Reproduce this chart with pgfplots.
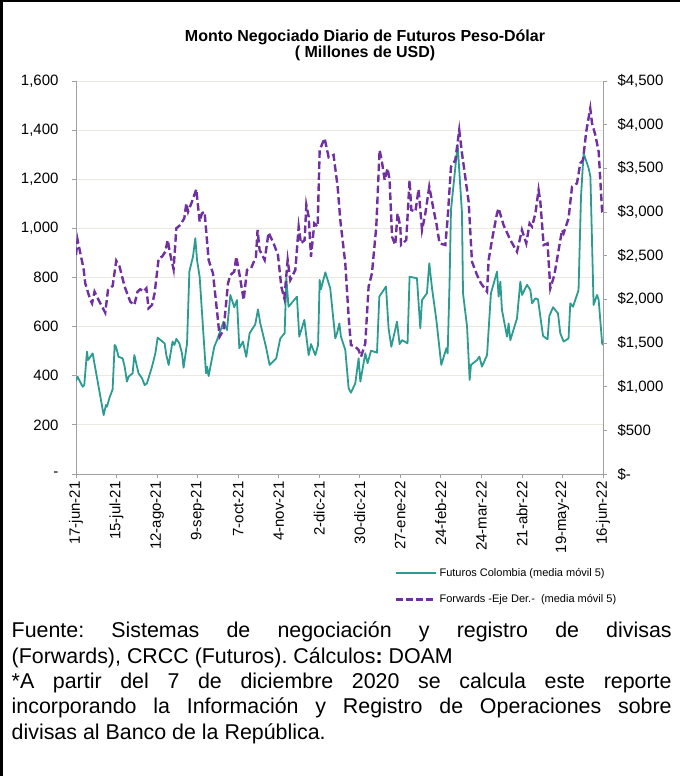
\documentclass[border=0pt]{standalone}
\usepackage{pgfplots}
\pgfplotsset{compat=1.18}
\usepackage{fontspec}
\setmainfont{Liberation Sans}
\definecolor{gridc}{HTML}{EAE8DF}
\definecolor{axisc}{HTML}{A0A0A0}
\definecolor{futc}{HTML}{2B9C8F}
\definecolor{fwdc}{HTML}{7030A0}
\frenchspacing
\begin{document}
\begin{tikzpicture}[x=1pt,y=1pt]
\useasboundingbox (0pt,0pt) rectangle (680pt,776pt);
\fill[black] (0pt,773.5pt) rectangle (680pt,776pt);
\fill[black] (0pt,0pt) rectangle (2.5pt,776pt);
\node[font=\bfseries\fontsize{16}{16}\selectfont, anchor=base] at (365pt,734pt) {Monto Negociado Diario de Futuros Peso-Dólar};
\node[font=\bfseries\fontsize{16}{16}\selectfont, anchor=base] at (365pt,718pt) {( Millones de USD)};
\begin{axis}[
  at={(76pt,302pt)}, anchor=south west, width=527pt, height=393pt, scale only axis,
  xmin=0, xmax=364, ymin=0, ymax=1600,
  axis x line*=bottom, axis y line*=left,
  axis line style={draw=axisc, line width=0.8pt, -},
  tick style={draw=axisc, line width=0.8pt},
  tick align=outside, major tick length=4pt,
  ytick={0,200,...,1600},
  yticklabels={-,200,400,600,800,{1,000},{1,200},{1,400},{1,600}},
  ymajorgrids, grid style={draw=gridc, line width=0.8pt},
  xtick={0,28,...,364},
  xticklabels={17-jun-21,15-jul-21,12-ago-21,9-sep-21,7-oct-21,4-nov-21,2-dic-21,30-dic-21,27-ene-22,24-feb-22,24-mar-22,21-abr-22,19-may-22,16-jun-22},
  every tick label/.append style={font=\fontsize{15}{18}\selectfont, text=black},
  xticklabel style={rotate=90, anchor=east},
  yticklabel style={xshift=-10pt},
  legend style={at={(0.6053,-0.235)}, anchor=north west, draw=none, fill=none,
    font=\fontsize{11}{13}\selectfont, row sep=12.5pt, inner sep=0pt},
  legend cell align=left,
  legend image code/.code={\draw[#1] (0pt,0pt) -- (40pt,0pt);},
]
\addplot[color=futc, line width=1.8pt, line join=round, forget plot] coordinates {
(0,380)(1.1,396)(4.6,355)(5.7,362)(7.6,498)(8.3,464)(11.5,491)(19.1,240)(20.7,281)(21.4,274)(23.0,308)(25.3,345)(26.7,525)(27.6,518)(29.4,477)(32.2,471)(33.6,437)(35.2,376)(36.3,396)(39.1,410)(40.3,484)(43.2,410)(45.6,390)(47.4,362)(49.0,369)(52.5,437)(54.8,491)(56.4,555)(61.2,532)(62.4,484)(64.0,444)(66.7,539)(67.9,525)(69.3,550)(71.4,532)(73.2,491)(74.3,433)(76.7,532)(78.3,824)(80.8,885)(82.4,960)(83.6,871)(85.4,803)(89.8,410)(90.5,437)(91.6,399)(95.5,518)(97.4,545)(101.9,620)(104.3,586)(106.6,729)(109.3,679)(111.2,708)(112.8,512)(115.3,539)(117.6,477)(119.9,573)(123.8,609)(125.7,670)(127.3,613)(131.2,518)(133.7,444)(138.3,471)(141.1,552)(144.1,573)(145.3,797)(146.8,681)(152.6,722)(154.2,559)(157.7,627)(160.7,484)(162.3,529)(165.3,484)(167.2,525)(168.3,790)(169.2,752)(172.2,821)(175.6,756)(179.1,552)(180.3,573)(181.9,613)(183.0,559)(186.0,505)(188.3,349)(189.9,331)(192.9,369)(195.2,471)(196.4,376)(199.8,491)(201.4,451)(203.8,502)(207.9,494)(209.5,722)(212.5,749)(214.1,763)(215.9,593)(217.8,518)(221.7,620)(223.5,529)(225.2,545)(229.0,532)(230.4,803)(235.5,797)(237.8,593)(239.0,708)(242.4,736)(244.0,858)(245.9,756)(248.9,627)(252.3,444)(255.8,512)(256.7,491)(258.0,776)(259.0,1075)(263.6,1340)(266.6,1061)(267.3,736)(270.1,600)(271.9,383)(272.8,444)(277.0,464)(278.6,478)(280.4,437)(283.9,484)(286.6,736)(290.8,824)(291.9,722)(293.1,783)(294.2,668)(297.7,559)(298.8,613)(300.0,545)(304.6,634)(306.9,783)(308.1,729)(311.5,770)(313.8,749)(315.0,695)(317.3,715)(319.1,711)(321.2,620)(322.6,562)(325.7,548)(326.9,643)(329.5,679)(332.9,654)(334.5,573)(336.8,539)(340.2,552)(341.4,695)(343.3,681)(347.1,749)(348.8,1129)(350.6,1306)(354.1,1244)(355.3,1210)(357.5,688)(359.9,729)(361.0,708)(363.4,532)(364,525)
};
\addlegendimage{color=futc, line width=1.8pt}
\addlegendentry{Futuros Colombia (media móvil 5)}
\addlegendimage{color=fwdc, line width=2.4pt, dash pattern=on 7pt off 3pt}
\addlegendentry{Forwards -Eje Der.-\ \ (media móvil 5)}
\end{axis}
\begin{axis}[
  at={(76pt,302pt)}, anchor=south west, width=527pt, height=393pt, scale only axis,
  xmin=0, xmax=364, ymin=0, ymax=4500,
  axis y line*=right, axis x line=none,
  axis line style={draw=axisc, line width=0.8pt, -},
  tick style={draw=axisc, line width=0.8pt},
  tick align=outside, major tick length=4pt,
  ytick={0,500,...,4500},
  yticklabels={\$-,\$500,{\$1,000},{\$1,500},{\$2,000},{\$2,500},{\$3,000},{\$3,500},{\$4,000},{\$4,500}},
  every tick label/.append style={font=\fontsize{15}{18}\selectfont, text=black},
  yticklabel style={anchor=west, xshift=7pt},
]
\addplot[color=fwdc, line width=2.4pt, dash pattern=on 7.5pt off 3.5pt] coordinates {
(0,2508)(1.1,2679)(3.0,2527)(5.2,2355)(6.4,2183)(9.9,1992)(11.1,1954)(12.8,2088)(15.6,1992)(20.2,1847)(22.1,2107)(25.3,2153)(27.8,2442)(30.1,2374)(33.6,2145)(37.5,1973)(40.3,1935)(42.5,2088)(44.4,2115)(46.7,2088)(48.6,2126)(50.1,1897)(52.5,1935)(54.3,2069)(57.1,2470)(59.4,2488)(61.7,2545)(63.3,2679)(65.2,2508)(67.4,2344)(69.3,2813)(72.0,2851)(74.8,2928)(76.2,3099)(77.4,3003)(80.1,3118)(83.1,3260)(85.4,2889)(87.0,2985)(88.8,3003)(91.6,2450)(94.6,2298)(97.8,1801)(99.2,1572)(101.9,1649)(105.0,2183)(106.6,2278)(109.3,2317)(110.7,2488)(113.0,2278)(115.8,1992)(118.1,2336)(120.9,2355)(124.3,2488)(125.4,2794)(126.8,2565)(130.3,2450)(133.0,2763)(136.5,2641)(139.5,2508)(141.8,2145)(143.9,2012)(146.2,2450)(148.0,2221)(151.5,2336)(153.8,2832)(155.4,2641)(157.9,2679)(159.1,3080)(160.7,2946)(162.3,2488)(164.6,2870)(166.9,2832)(168.3,3710)(171.7,3844)(174.5,3626)(177.9,3653)(180.7,3290)(182.6,2900)(186.0,2412)(188.3,1801)(189.9,1477)(192.9,1458)(195.2,1420)(196.9,1343)(199.8,1496)(202.1,2145)(204.4,2298)(207.4,2832)(209.7,3710)(211.3,3576)(213.2,3366)(215.2,3500)(216.6,3366)(218.3,2717)(220.5,2622)(222.1,2985)(224.0,2832)(224.5,2622)(228.1,2679)(230.4,3366)(231.6,3023)(234.4,3003)(236.6,3260)(239.0,2794)(241.3,2985)(244.0,3290)(247.0,3023)(248.9,2870)(251.1,2641)(255.1,2622)(256.7,2928)(259.0,3519)(262.0,3595)(264.7,3939)(266.6,3672)(271.2,3118)(273.5,2431)(277.0,2278)(279.7,2183)(283.9,2088)(285.0,2450)(287.3,2679)(290.8,2985)(291.9,3042)(293.6,2946)(295.3,2851)(300.0,2679)(304.6,2545)(308.0,2794)(311.0,2641)(313.3,2870)(315.0,2832)(317.3,2985)(319.5,3252)(320.7,3118)(323.0,2622)(325.7,2641)(327.6,2126)(330.4,2278)(335.7,2794)(336.8,2756)(340.2,2928)(342.6,3290)(346.0,3328)(348.3,3557)(350.2,3595)(352.4,3920)(355.2,4187)(356.4,4016)(358.7,3882)(361.0,3690)(363.4,3003)(364,2990)
};
\end{axis}
\begin{scope}[every node/.style={anchor=base west, inner sep=0pt, font=\fontsize{21.4}{25}\selectfont}]
\node at (11.5pt,138.3pt) {\makebox[660pt][s]{Fuente: Sistemas de negociación y registro de divisas}};
\node at (11.5pt,112.7pt) {(Forwards), CRCC (Futuros). Cálculos\textbf{:} DOAM};
\node at (11.5pt,87.4pt) {\makebox[660pt][s]{*A partir del 7 de diciembre 2020 se calcula este reporte}};
\node at (11.5pt,62.1pt) {\makebox[660pt][s]{incorporando la Información y Registro de Operaciones sobre}};
\node at (11.5pt,36.8pt) {divisas al Banco de la República.};
\end{scope}
\end{tikzpicture}
\end{document}
